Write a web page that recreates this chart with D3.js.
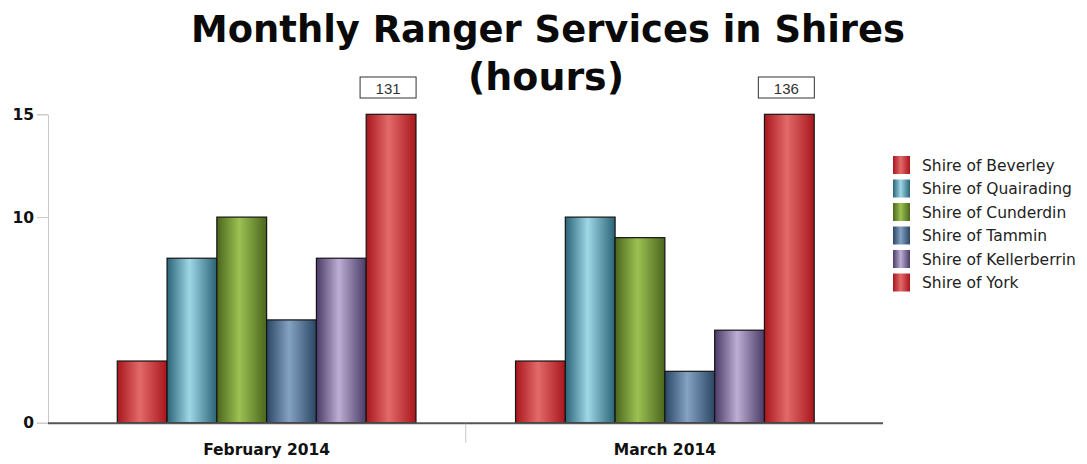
<!DOCTYPE html>
<html>
<head>
<meta charset="utf-8">
<script src="https://d3js.org/d3.v7.min.js"></script>
<style>
  html, body { margin: 0; padding: 0; background: #fff; }
  svg { display: block; }
</style>
</head>
<body>
<svg id="chart" width="1087" height="464"></svg>
<script>
// Monthly ranger service hours per shire
const months = ["February 2014", "March 2014"];
const shires = ["Shire of Beverley", "Shire of Quairading", "Shire of Cunderdin",
                "Shire of Tammin", "Shire of Kellerberrin", "Shire of York"];
const beverley     = [3, 3];
const quairading   = [8, 10];
const cunderdin    = [10, 9];
const tammin       = [5, 2.5];
const kellerberrin = [8, 4.5];
const york         = [131, 136];
const yTicks = [0, 10, 15];

const seriesValues = [beverley, quairading, cunderdin, tammin, kellerberrin, york];

// colour stops: [edge, highlight] for each shire
const palette = [
  ["#a8161c", "#e36a6a"],
  ["#2a6376", "#9ed7e6"],
  ["#4a661c", "#9dc152"],
  ["#2b4665", "#84a2c2"],
  ["#4a3a66", "#bcaed4"],
  ["#a8161c", "#e36a6a"]
];

const svg = d3.select("#chart");

const axisLeft = 48, axisRight = 883;
const y = d3.scaleLinear().domain([0, 15]).range([422.7, 114.3]).clamp(true);

const x0 = d3.scaleBand().domain(months).range([67.5, 864]).padding(0);
const x1 = d3.scaleBand().domain(shires).range([0, x0.bandwidth()])
  .paddingInner(0).paddingOuter(1);

// gradients
const defs = svg.append("defs");
palette.forEach((c, i) => {
  const g = defs.append("linearGradient").attr("id", "grad" + i)
    .attr("x1", "0%").attr("x2", "100%").attr("y1", "0%").attr("y2", "0%");
  g.append("stop").attr("offset", "0%").attr("stop-color", c[0]);
  g.append("stop").attr("offset", "45%").attr("stop-color", c[1]);
  g.append("stop").attr("offset", "100%").attr("stop-color", c[0]);
});

// title
const title = svg.append("g").attr("font-family", "DejaVu Sans, Verdana, sans-serif")
  .attr("font-weight", "bold").attr("fill", "#0a0a0a").attr("text-anchor", "middle");
title.append("text").attr("x", 548).attr("y", 42).attr("font-size", 37)
  .attr("textLength", 714).attr("lengthAdjust", "spacingAndGlyphs")
  .text("Monthly Ranger Services in Shires");
title.append("text").attr("x", 546).attr("y", 90).attr("font-size", 37)
  .attr("textLength", 156).attr("lengthAdjust", "spacingAndGlyphs")
  .text("(hours)");

// y axis
const yAxis = d3.axisLeft(y).tickValues(yTicks).tickSize(11).tickPadding(3)
  .tickFormat(d3.format("d"));
const yg = svg.append("g").attr("transform", `translate(${axisLeft},0)`).call(yAxis);
yg.select(".domain").attr("stroke", "#c8c8c8");
yg.selectAll(".tick line").attr("stroke", "#c8c8c8");
yg.selectAll(".tick text").attr("font-family", "DejaVu Sans, Verdana, sans-serif")
  .attr("font-weight", "bold").attr("font-size", 15.5).attr("fill", "#111");

// bars
const groups = svg.append("g").selectAll("g").data(months).join("g")
  .attr("transform", d => `translate(${x0(d)},0)`);

groups.selectAll("rect")
  .data((m, mi) => shires.map((s, si) => ({ s, si, v: seriesValues[si][mi] })))
  .join("rect")
  .attr("x", d => x1(d.s))
  .attr("y", d => y(d.v))
  .attr("width", x1.bandwidth())
  .attr("height", d => y(0) - y(d.v))
  .attr("fill", d => `url(#grad${d.si})`)
  .attr("stroke", "#141414")
  .attr("stroke-width", 1.2);

// value callouts for bars beyond the axis maximum
const over = [];
months.forEach((m, mi) => {
  seriesValues.forEach((vals, si) => {
    if (vals[mi] > y.domain()[1]) over.push({ m, s: shires[si], v: vals[mi] });
  });
});
const callout = svg.append("g").selectAll("g").data(over).join("g")
  .attr("transform", d => `translate(${x0(d.m) + x1(d.s) + x1.bandwidth() / 2 - 3},0)`);
callout.append("rect").attr("x", -28).attr("y", 77).attr("width", 56).attr("height", 21)
  .attr("fill", "#fff").attr("stroke", "#333").attr("stroke-width", 1);
callout.append("text").attr("x", 0).attr("y", 93.5).attr("text-anchor", "middle")
  .attr("font-family", "Liberation Sans, Arial, sans-serif").attr("font-size", 15)
  .attr("fill", "#333").text(d => d.v);

// x axis baseline and category divider
const xg = svg.append("g");
xg.append("line").attr("x1", axisLeft).attr("x2", axisRight)
  .attr("y1", y(0) + 0.5).attr("y2", y(0) + 0.5)
  .attr("stroke", "#555").attr("stroke-width", 2);
xg.append("line").attr("x1", x0(months[1])).attr("x2", x0(months[1]))
  .attr("y1", y(0) + 1).attr("y2", y(0) + 20)
  .attr("stroke", "#c8c8c8").attr("stroke-width", 1);
xg.selectAll("text").data(months).join("text")
  .attr("x", d => x0(d) + x0.bandwidth() / 2)
  .attr("y", 455).attr("text-anchor", "middle")
  .attr("font-family", "DejaVu Sans, Verdana, sans-serif").attr("font-weight", "bold")
  .attr("font-size", 15.5).attr("fill", "#111").text(d => d);

// legend
const legend = svg.append("g").attr("transform", "translate(893,156)");
const li = legend.selectAll("g").data(shires).join("g")
  .attr("transform", (d, i) => `translate(0,${i * 23.5})`);
li.append("rect").attr("width", 17).attr("height", 18)
  .attr("fill", (d, i) => `url(#grad${i})`);
li.append("text").attr("x", 29).attr("y", 14.5)
  .attr("font-family", "DejaVu Sans, Verdana, sans-serif").attr("font-size", 15.5)
  .attr("fill", "#222").text(d => d);
</script>
</body>
</html>
